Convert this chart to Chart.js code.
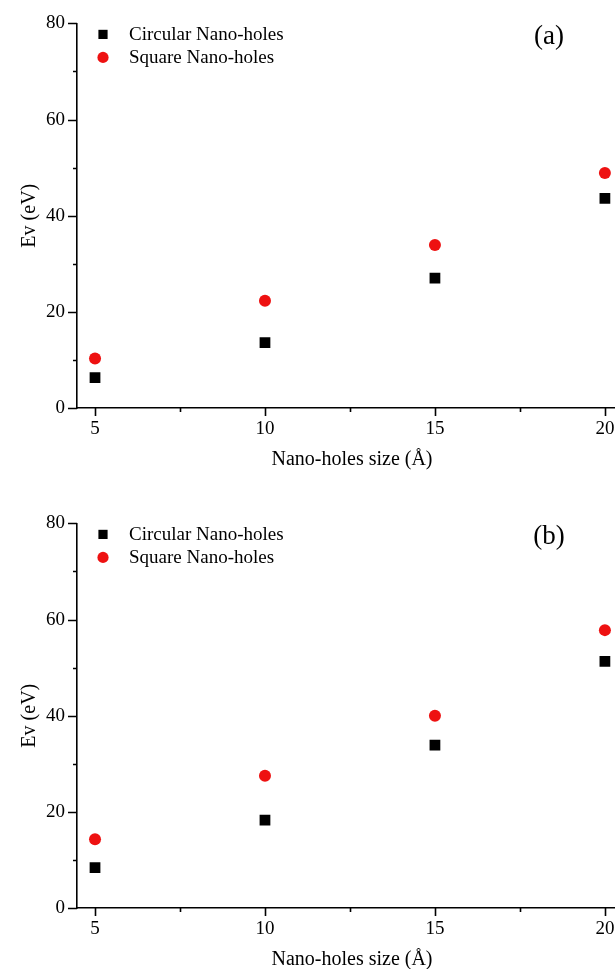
<!DOCTYPE html>
<html>
<head>
<meta charset="utf-8">
<script src="https://cdn.jsdelivr.net/npm/chart.js@4.4.1/dist/chart.umd.min.js"></script>
<style>
  html, body { margin: 0; padding: 0; background: #fff; }
  #wrap { position: relative; width: 615px; height: 969px; overflow: hidden; }
  .panel { position: absolute; left: 0; width: 640px; height: 480px; }
</style>
</head>
<body>
<div id="wrap">
  <div class="panel" style="top:0"><canvas id="chartA"></canvas></div>
  <div class="panel" style="top:500px"><canvas id="chartB"></canvas></div>
</div>
<script>
// nano-hole size (Å) and vacancy energy Ev (eV)
const sizes = [5, 10, 15, 20];
const circularA = [6.3, 13.6, 27.0, 43.6];
const squareA = [10.3, 22.3, 33.9, 48.9];
const circularB = [8.4, 18.3, 33.9, 51.3];
const squareB = [14.3, 27.5, 40.0, 57.8];

const yTicks = [0, 20, 40, 60, 80];
const xMinor = [7.5, 12.5, 17.5];
const yMinor = [10, 30, 50, 70];

const SERIF = "'Liberation Serif', 'Times New Roman', serif";

// outward tick marks, long for labelled values, short in between
const axisTicks = {
  id: 'axisTicks',
  afterDraw(chart) {
    const {ctx, chartArea, scales: {x, y}} = chart;
    ctx.save();
    ctx.strokeStyle = '#000';
    ctx.lineWidth = 1.6;
    ctx.beginPath();
    const xTick = (v, len) => {
      const px = Math.round(x.getPixelForValue(v)) + 0.5;
      ctx.moveTo(px, chartArea.bottom);
      ctx.lineTo(px, chartArea.bottom + len);
    };
    const yTick = (v, len) => {
      const py = Math.round(y.getPixelForValue(v)) + 0.5;
      ctx.moveTo(chartArea.left, py);
      ctx.lineTo(chartArea.left - len, py);
    };
    sizes.forEach(v => xTick(v, 8));
    xMinor.forEach(v => xTick(v, 4));
    yTicks.forEach(v => yTick(v, 9));
    yMinor.forEach(v => yTick(v, 4));
    ctx.stroke();
    ctx.restore();
  }
};

// legend in the top-left corner and the panel tag on the right
const panelDecor = {
  id: 'panelDecor',
  afterDraw(chart, args, opts) {
    const {ctx, chartArea} = chart;
    ctx.save();
    ctx.font = '19px ' + SERIF;
    ctx.textBaseline = 'middle';
    ctx.textAlign = 'left';
    ctx.fillStyle = '#000';
    chart.data.datasets.forEach((ds, i) => {
      const cx = chartArea.left + 26;
      const cy = chartArea.top + 11 + i * 23;
      ctx.fillStyle = ds.backgroundColor;
      Chart.helpers.drawPoint(ctx, {
        pointStyle: ds.pointStyle,
        radius: ds.pointStyle === 'rect' ? 6.5 : 5.6,
        borderWidth: 0
      }, cx, cy);
      ctx.fillStyle = '#000';
      ctx.fillText(ds.label, chartArea.left + 52, cy + 1);
    });
    ctx.font = '27px ' + SERIF;
    ctx.textAlign = 'center';
    ctx.fillText(opts.tag, 549, chartArea.top + 14);
    ctx.restore();
  }
};

function buildChart(canvas, circular, square, tag) {
  return new Chart(canvas, {
    type: 'scatter',
    data: {
      datasets: [
        {
          label: 'Circular Nano-holes',
          data: sizes.map((s, i) => ({x: s, y: circular[i]})),
          pointStyle: 'rect',
          pointRadius: 7.6,
          pointHoverRadius: 7.6,
          backgroundColor: '#000',
          borderColor: '#000',
          borderWidth: 0
        },
        {
          label: 'Square Nano-holes',
          data: sizes.map((s, i) => ({x: s, y: square[i]})),
          pointStyle: 'circle',
          pointRadius: 6,
          pointHoverRadius: 6,
          backgroundColor: '#ee1111',
          borderColor: '#ee1111',
          borderWidth: 0
        }
      ]
    },
    options: {
      responsive: true,
      maintainAspectRatio: false,
      animation: false,
      events: [],
      layout: { padding: { top: 21, right: 13, bottom: 0, left: 0 } },
      scales: {
        x: {
          type: 'linear',
          min: 4.47,
          max: 20.65,
          afterBuildTicks: s => { s.ticks = sizes.map(v => ({value: v})); },
          afterFit: s => { s.height = 72; },
          grid: { display: false, drawTicks: false },
          border: { display: true, color: '#000', width: 1.6 },
          ticks: {
            color: '#000',
            padding: 10,
            font: { family: SERIF, size: 19 }
          },
          title: {
            display: true,
            text: 'Nano-holes size (Å)',
            color: '#000',
            font: { family: SERIF, size: 20 },
            padding: { top: 0, bottom: 8 }
          }
        },
        y: {
          min: 0,
          max: 80,
          afterBuildTicks: s => { s.ticks = yTicks.map(v => ({value: v})); },
          afterFit: s => { s.width = 77; },
          grid: { display: false, drawTicks: false },
          border: { display: true, color: '#000', width: 1.6 },
          ticks: {
            color: '#000',
            padding: 12,
            font: { family: SERIF, size: 19 }
          },
          title: {
            display: true,
            text: 'Ev (eV)',
            color: '#000',
            font: { family: SERIF, size: 20 },
            padding: { top: 18, bottom: 0 }
          }
        }
      },
      plugins: {
        legend: { display: false },
        tooltip: { enabled: false },
        panelDecor: { tag: tag }
      }
    },
    plugins: [axisTicks, panelDecor]
  });
}

buildChart(document.getElementById('chartA'), circularA, squareA, '(a)');
buildChart(document.getElementById('chartB'), circularB, squareB, '(b)');
</script>
</body>
</html>
